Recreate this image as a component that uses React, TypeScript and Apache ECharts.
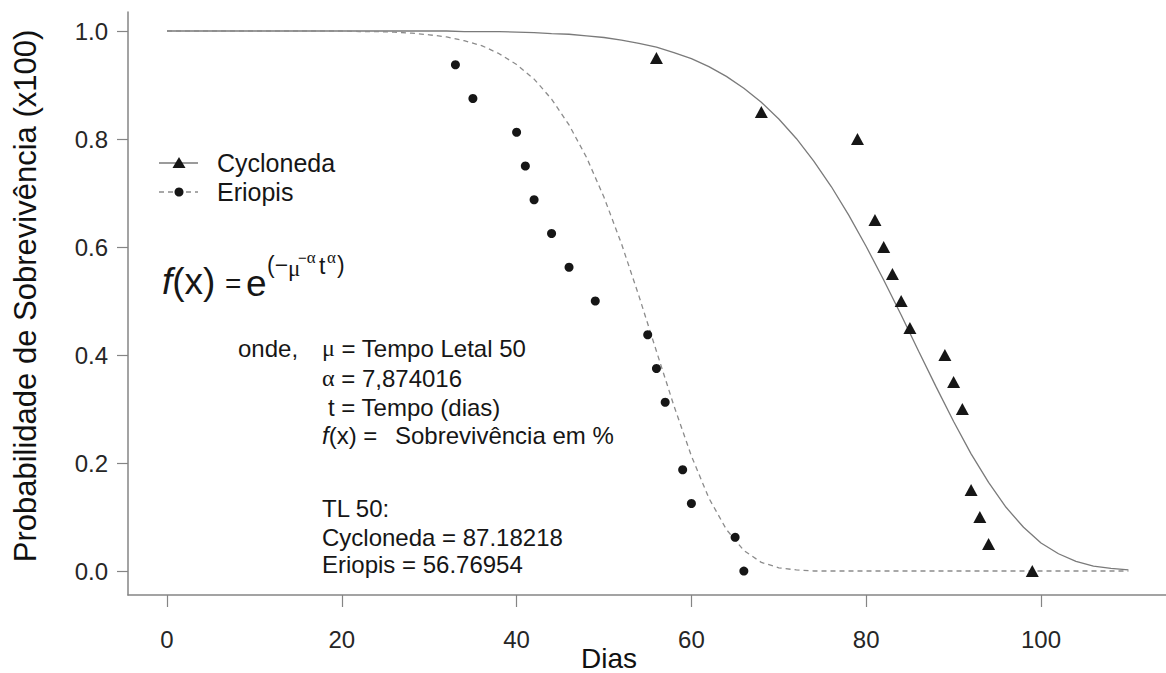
import React, { useEffect, useRef } from "react";
import * as echarts from "echarts";

// Fitted Weibull survival curves
const curveDays = [0, 10, 20, 22, 24, 26, 28, 30, 32, 34, 36, 38, 40, 42, 44, 46, 48, 50, 52, 54, 56, 58, 60, 62, 64, 66, 68, 70, 72, 74, 76, 78, 80, 82, 84, 86, 88, 90, 92, 94, 96, 98, 100, 102, 104, 106, 108, 110];
const cycloCurve = [1, 1, 1, 1, 1, 1, 1, 1, 1, 0.999, 0.999, 0.999, 0.998, 0.997, 0.995, 0.994, 0.991, 0.988, 0.983, 0.977, 0.970, 0.960, 0.949, 0.934, 0.916, 0.894, 0.868, 0.837, 0.801, 0.759, 0.712, 0.659, 0.601, 0.539, 0.474, 0.407, 0.341, 0.277, 0.217, 0.164, 0.118, 0.081, 0.052, 0.032, 0.018, 0.009, 0.005, 0.002];
const erioCurve = [1, 1, 1, 0.999, 0.999, 0.998, 0.996, 0.993, 0.989, 0.982, 0.973, 0.958, 0.938, 0.911, 0.874, 0.826, 0.766, 0.692, 0.606, 0.509, 0.407, 0.306, 0.213, 0.135, 0.077, 0.038, 0.016, 0.006, 0.002, 0, 0, 0, 0, 0, 0, 0, 0, 0, 0, 0, 0, 0, 0, 0, 0, 0, 0, 0];

// Observed survival
const cycloDays = [56, 68, 79, 81, 82, 83, 84, 85, 89, 90, 91, 92, 93, 94, 99];
const cycloSurv = [0.95, 0.85, 0.8, 0.65, 0.6, 0.55, 0.5, 0.45, 0.4, 0.35, 0.3, 0.15, 0.1, 0.05, 0];
const erioDays = [33, 35, 40, 41, 42, 44, 46, 49, 55, 56, 57, 59, 60, 65, 66];
const erioSurv = [0.9375, 0.875, 0.8125, 0.75, 0.6875, 0.625, 0.5625, 0.5, 0.4375, 0.375, 0.3125, 0.1875, 0.125, 0.0625, 0];

const xTicks = [0, 20, 40, 60, 80, 100];
const yTicks = [0, 0.2, 0.4, 0.6, 0.8, 1.0];

const SANS = "'Liberation Sans', Arial, sans-serif";
const SERIF = "'Liberation Serif', 'Times New Roman', serif";
const INK = "#161616";
const AXIS = "#858585";

function txt(text: string, x: number, y: number, size: number, extra: any = {}) {
  return {
    type: "text",
    x,
    y,
    silent: true,
    style: {
      text,
      fontSize: size,
      fontFamily: SANS,
      fill: INK,
      textAlign: "left",
      textVerticalAlign: "middle",
      ...extra,
    },
  };
}

export default function App() {
  const ref = useRef<HTMLDivElement>(null);

  useEffect(() => {
    if (!ref.current) return;
    const chart = echarts.init(ref.current, undefined, { renderer: "svg" });

    const zip = (xs: number[], ys: number[]) => xs.map((x, i) => [x, ys[i]]);

    const richSerif = {
      g: { fontFamily: SERIF, fontSize: 24, fill: INK },
      i: { fontFamily: SANS, fontStyle: "italic", fontSize: 24, fill: INK },
    };

    chart.setOption({
      animation: false,
      backgroundColor: "#ffffff",
      grid: { left: 128, right: 0, top: 12, bottom: 78, containLabel: false },
      xAxis: {
        type: "value",
        min: -4.462,
        max: 114.3,
        splitLine: { show: false },
        axisLine: { show: true, onZero: false, lineStyle: { color: AXIS, width: 1.5 } },
        axisTick: { show: true, length: 12, customValues: xTicks, lineStyle: { color: AXIS, width: 1.2 } },
        axisLabel: {
          customValues: xTicks,
          margin: 32,
          fontSize: 24,
          fontFamily: SANS,
          color: "#262626",
          formatter: (v: number) => String(v),
        },
      },
      yAxis: {
        type: "value",
        min: -0.0444,
        max: 1.0352,
        splitLine: { show: false },
        axisLine: { show: true, onZero: false, lineStyle: { color: AXIS, width: 1.5 } },
        axisTick: { show: true, length: 11, customValues: yTicks, lineStyle: { color: AXIS, width: 1.2 } },
        axisLabel: {
          customValues: yTicks,
          margin: 20,
          fontSize: 24,
          fontFamily: SANS,
          color: "#262626",
          formatter: (v: number) => v.toFixed(1),
        },
      },
      series: [
        {
          name: "Cycloneda",
          type: "line",
          data: zip(curveDays, cycloCurve),
          showSymbol: false,
          symbol: "none",
          smooth: false,
          clip: false,
          lineStyle: { color: "#7a7a7a", width: 1.3 },
          z: 2,
        },
        {
          name: "Eriopis",
          type: "line",
          data: zip(curveDays, erioCurve),
          showSymbol: false,
          symbol: "none",
          smooth: false,
          clip: false,
          lineStyle: { color: "#8c8c8c", width: 1.3, type: [5, 4] },
          z: 2,
        },
        {
          name: "Cycloneda observado",
          type: "scatter",
          data: zip(cycloDays, cycloSurv),
          symbol: "triangle",
          symbolSize: [13, 12],
          itemStyle: { color: INK, opacity: 1 },
          z: 3,
        },
        {
          name: "Eriopis observado",
          type: "scatter",
          data: zip(erioDays, erioSurv),
          symbol: "circle",
          symbolSize: 9,
          itemStyle: { color: INK, opacity: 1 },
          z: 3,
        },
      ],
      graphic: [
        // Legend
        { type: "line", silent: true, shape: { x1: 159, y1: 163, x2: 198, y2: 163 }, style: { stroke: "#7a7a7a", lineWidth: 1.3 } },
        { type: "polygon", silent: true, shape: { points: [[179, 157], [185.5, 168], [172.5, 168]] }, style: { fill: INK } },
        txt("Cycloneda", 217, 163, 25),
        { type: "line", silent: true, shape: { x1: 159, y1: 192, x2: 198, y2: 192 }, style: { stroke: "#8c8c8c", lineWidth: 1.3, lineDash: [5, 4] } },
        { type: "circle", silent: true, shape: { cx: 179, cy: 192, r: 4.5 }, style: { fill: INK } },
        txt("Eriopis", 217, 192, 25),

        // Formula f(x) = e^(-mu^-alpha t^alpha)
        {
          type: "text",
          x: 162,
          y: 281,
          silent: true,
          style: {
            text: "{i|f}(x)",
            fontSize: 37,
            fontFamily: SANS,
            fill: INK,
            textVerticalAlign: "middle",
            rich: { i: { fontStyle: "italic", fontSize: 37, fontFamily: SANS, fill: INK } },
          },
        },
        txt("=", 225, 283, 28),
        txt("e", 246, 283, 37),
        txt("(\u2212", 267, 265, 23),
        txt("\u03bc", 288, 268, 23, { fontFamily: SERIF }),
        {
          type: "text",
          x: 298,
          y: 257,
          silent: true,
          style: {
            text: "\u2212{g|\u03b1}",
            fontSize: 15,
            fontFamily: SANS,
            fill: INK,
            textVerticalAlign: "middle",
            rich: { g: { fontFamily: SERIF, fontSize: 17, fill: INK } },
          },
        },
        txt("t", 319, 266, 23),
        txt("\u03b1", 327, 257, 17, { fontFamily: SERIF }),
        txt(")", 337, 265, 23),

        // Definitions
        txt("onde,", 238, 348, 24),
        txt("{g|\u03bc} = Tempo Letal 50", 322, 348, 24, { rich: richSerif }),
        txt("{g|\u03b1} = 7,874016", 322, 378, 24, { rich: richSerif }),
        txt("t = Tempo (dias)", 328, 407, 24),
        txt("{i|f}(x) =", 322, 435, 24, { rich: richSerif }),
        txt("Sobrevivência em %", 395, 435, 24),

        txt("TL 50:", 322, 508, 24),
        txt("Cycloneda = 87.18218", 322, 537, 24),
        txt("Eriopis = 56.76954", 322, 564, 24),

        // Axis titles
        txt("Dias", 609, 658, 28, { textAlign: "center", fill: "#111" }),
        {
          type: "text",
          x: 25,
          y: 296,
          rotation: Math.PI / 2,
          silent: true,
          style: {
            text: "Probabilidade de Sobrevivência (x100)",
            fontSize: 31,
            fontFamily: SANS,
            fill: "#111",
            textAlign: "center",
            textVerticalAlign: "middle",
          },
        },
      ],
    });

    return () => chart.dispose();
  }, []);

  return (
    <div
      ref={ref}
      style={{ position: "absolute", left: 0, top: 0, width: 1166, height: 673, background: "#fff" }}
    />
  );
}
